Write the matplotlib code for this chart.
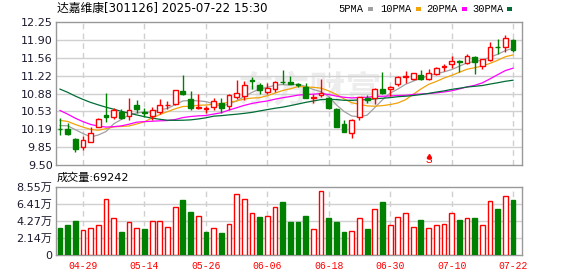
import numpy as np
import pandas as pd
import matplotlib.pyplot as plt
from matplotlib.patches import Rectangle

plt.rcParams['font.family'] = ['DejaVu Sans', 'Noto Sans CJK SC']

# 达嘉维康 [301126] daily bars 04-24 .. 07-22
dates = ['04-24', '04-25', '04-28', '04-29', '04-30', '05-06', '05-07', '05-08', '05-09', '05-12',
         '05-13', '05-14', '05-15', '05-16', '05-19', '05-20', '05-21', '05-22', '05-23', '05-26',
         '05-27', '05-28', '05-29', '05-30', '06-03', '06-04', '06-05', '06-06', '06-09', '06-10',
         '06-11', '06-12', '06-13', '06-16', '06-17', '06-18', '06-19', '06-20', '06-23', '06-24',
         '06-25', '06-26', '06-27', '06-30', '07-01', '07-02', '07-03', '07-04', '07-07', '07-08',
         '07-09', '07-10', '07-11', '07-14', '07-15', '07-16', '07-17', '07-18', '07-21', '07-22']
opens = [10.20, 10.19, 10.01, 9.85, 9.95, 10.23, 10.46, 10.42, 10.53, 10.44,
         10.65, 10.53, 10.45, 10.53, 10.65, 10.67, 10.92, 10.77, 10.59, 10.58,
         10.62, 10.70, 10.64, 10.80, 10.83, 11.14, 11.03, 10.90, 10.96, 11.10,
         11.10, 11.06, 11.00, 10.78, 10.85, 10.78, 10.58, 10.29, 10.12, 10.42,
         10.79, 10.78, 10.96, 10.97, 11.05, 11.20, 11.16, 11.23, 11.16, 11.25,
         11.39, 11.45, 11.50, 11.46, 11.57, 11.40, 11.52, 11.77, 11.76, 11.90]
highs = [10.41, 10.31, 10.03, 10.06, 10.24, 10.40, 10.89, 10.60, 10.58, 10.79,
         10.75, 10.60, 10.62, 10.77, 10.73, 10.95, 11.23, 10.92, 10.87, 10.64,
         10.78, 10.78, 10.87, 11.14, 11.11, 11.19, 11.08, 11.08, 11.11, 11.33,
         11.21, 11.08, 11.08, 10.87, 11.16, 10.80, 10.60, 10.36, 10.38, 10.81,
         10.85, 10.99, 11.28, 11.02, 11.21, 11.31, 11.27, 11.33, 11.35, 11.38,
         11.44, 11.59, 11.52, 11.63, 11.60, 11.54, 11.86, 11.93, 11.99, 11.92]
lows = [10.07, 10.07, 9.75, 9.80, 9.95, 10.23, 10.33, 10.38, 10.39, 10.37,
        10.50, 10.42, 10.37, 10.48, 10.58, 10.66, 10.85, 10.56, 10.58, 10.51,
        10.55, 10.51, 10.56, 10.77, 10.75, 10.97, 10.87, 10.87, 10.91, 11.06,
        11.05, 11.00, 10.78, 10.70, 10.80, 10.58, 10.23, 10.14, 10.03, 10.36,
        10.70, 10.68, 10.86, 10.83, 11.02, 11.08, 11.13, 11.13, 11.14, 11.23,
        11.30, 11.36, 11.29, 11.44, 11.25, 11.35, 11.50, 11.63, 11.68, 11.67]
closes = [10.19, 10.09, 9.82, 9.99, 10.12, 10.38, 10.42, 10.56, 10.41, 10.55,
          10.57, 10.51, 10.55, 10.65, 10.66, 10.94, 10.86, 10.60, 10.61, 10.59,
          10.73, 10.60, 10.85, 10.88, 11.04, 11.11, 10.94, 10.99, 11.10, 11.09,
          11.06, 11.03, 10.78, 10.80, 10.88, 10.59, 10.24, 10.14, 10.37, 10.80,
          10.75, 10.97, 10.89, 11.00, 11.19, 11.21, 11.27, 11.16, 11.26, 11.36,
          11.40, 11.49, 11.48, 11.59, 11.48, 11.54, 11.77, 11.76, 11.94, 11.71]
# volume in 万 shares
vols = [3.44, 3.77, 4.27, 3.14, 3.39, 3.73, 7.04, 4.65, 2.89, 4.11,
        3.39, 3.27, 4.23, 4.23, 3.52, 5.99, 6.91, 5.41, 4.86, 2.89,
        3.39, 2.77, 3.85, 7.63, 7.04, 5.24, 4.78, 4.90, 5.99, 6.66,
        4.19, 4.19, 4.90, 3.27, 8.00, 4.69, 4.19, 2.89, 3.02, 4.65,
        3.31, 5.78, 6.66, 3.73, 4.78, 5.24, 3.52, 4.40, 3.35, 3.77,
        3.85, 5.24, 4.40, 4.65, 4.65, 3.73, 6.79, 5.78, 7.37, 6.9242]
# closes before the window (needed for the moving averages)
prior_closes = [11.95, 12.00, 11.90, 11.85, 11.80, 11.75, 11.70, 11.65, 11.60, 11.60,
                11.50, 11.40, 11.30, 11.20, 11.00, 10.80, 10.40, 10.10, 9.90, 9.80,
                10.30, 10.40, 10.50, 10.55, 10.55, 10.11, 10.20, 10.35, 10.45]

ma_periods = [5, 10, 20, 30]
ma_colors = ['#a0a0a0', '#f0a30a', '#ff00ff', '#006d36']
signal_idx = 48   # "S" mark

price_lim = (9.5035, 12.2475)
vol_max = 8.549

RED = '#ff0000'
GREEN = '#008000'
GRID = '#d0d0d0'
FRAME = '#999999'

W, H = 578, 276
fig = plt.figure(figsize=(W / 100, H / 100), dpi=100)
ax = fig.add_axes([56 / W, 1 - 165 / H, 466 / W, 143 / H])
axv = fig.add_axes([56 / W, 1 - 255 / H, 466 / W, 68 / H])

n = len(closes)
x = np.arange(n)
o = np.array(opens); h = np.array(highs); l = np.array(lows); c = np.array(closes)
up = c >= o

# moving averages
allc = pd.Series(prior_closes + closes)
for p, col in zip(ma_periods, ma_colors):
    ma = allc.rolling(p).mean().iloc[len(prior_closes):].values
    ax.plot(x, ma, color=col, lw=0.9, zorder=3)

# candles
cols = np.where(up, RED, GREEN)
ax.vlines(x, l, h, colors=cols, lw=1.0, zorder=4)
body_bot = np.minimum(o, c)
body_h = np.maximum(np.abs(c - o), 0.004)
ax.bar(x, body_h, bottom=body_bot, width=0.62,
       color=np.where(up, 'white', GREEN), edgecolor=cols, linewidth=1.0, zorder=5)

# volume, coloured by change vs previous close
prev = np.concatenate([[prior_closes[-1]], c[:-1]])
vup = c > prev
vcols = np.where(vup, RED, GREEN)
axv.bar(x, vols, width=0.62, color=np.where(vup, 'white', GREEN),
        edgecolor=vcols, linewidth=1.0, zorder=3)

# axes styling
tick_idx = list(range(3, n, 8))
for a in (ax, axv):
    a.set_xlim(-0.52, n + 0.17)
    for s in a.spines.values():
        s.set_color(FRAME)
        s.set_linewidth(1.0)
    a.tick_params(length=0, pad=2.5, labelsize=8, labelcolor='#1a1a2e')
    for t in tick_idx:
        a.axvline(t, color=GRID, lw=1.0, ls=(0, (4, 3)), zorder=1)

ax.set_ylim(*price_lim)
pt = np.linspace(price_lim[0], price_lim[1], 9)
ax.set_yticks(pt)
ax.set_yticklabels(['%.2f' % v for v in pt])
for v in pt[1:-1]:
    ax.axhline(v, color=GRID, lw=1.0, zorder=1)
ax.set_xticks([])

axv.set_ylim(0, vol_max)
vt = np.linspace(0, vol_max, 5)
axv.set_yticks(vt)
axv.set_yticklabels(['0'] + ['%.2f万' % v for v in vt[1:]])
for v in vt[1:-1]:
    axv.axhline(v, color=GRID, lw=1.0, zorder=1)
axv.set_xticks(tick_idx)
axv.set_xticklabels([dates[i] for i in tick_idx], color=RED, fontsize=7,
                    family='Liberation Mono')
axv.tick_params(axis='x', pad=4)

# watermark
ax.text(0.545, 0.52, '东方财富', transform=ax.transAxes, ha='center', va='center',
        fontsize=26, fontweight='bold', color='#ededed', family='Noto Sans CJK SC', zorder=0)

# S signal
ax.text(signal_idx, price_lim[0] + 0.005, 'S', color=RED, ha='center', va='bottom',
        fontsize=8, family='Liberation Mono', zorder=6)
ax.plot(signal_idx, price_lim[0] + 0.17, marker='^', ms=3, color=RED, zorder=6)

# title and legend
fig.text(57 / W, 1 - 8 / H, '达嘉维康[301126] 2025-07-22 15:30', fontsize=8.5,
         va='center', ha='left', color='black')
leg_x = [338, 380, 426, 472]
sq_x = [368, 416, 462, 507]
for p, col, tx, sx in zip(ma_periods, ma_colors, leg_x, sq_x):
    fig.text(tx / W, 1 - 9 / H, '%dPMA' % p, fontsize=7.5, family='Liberation Mono',
             va='center', ha='left', color='black')
    fig.add_artist(Rectangle((sx / W, 1 - 10.5 / H), 5 / W, 3.5 / H, transform=fig.transFigure,
                             facecolor=col, edgecolor='none'))

fig.text(57 / W, 1 - 178 / H, '成交量:%d' % round(vols[-1] * 10000), fontsize=8,
         va='center', ha='left', color='black')

fig.savefig('out.png', dpi=100)
